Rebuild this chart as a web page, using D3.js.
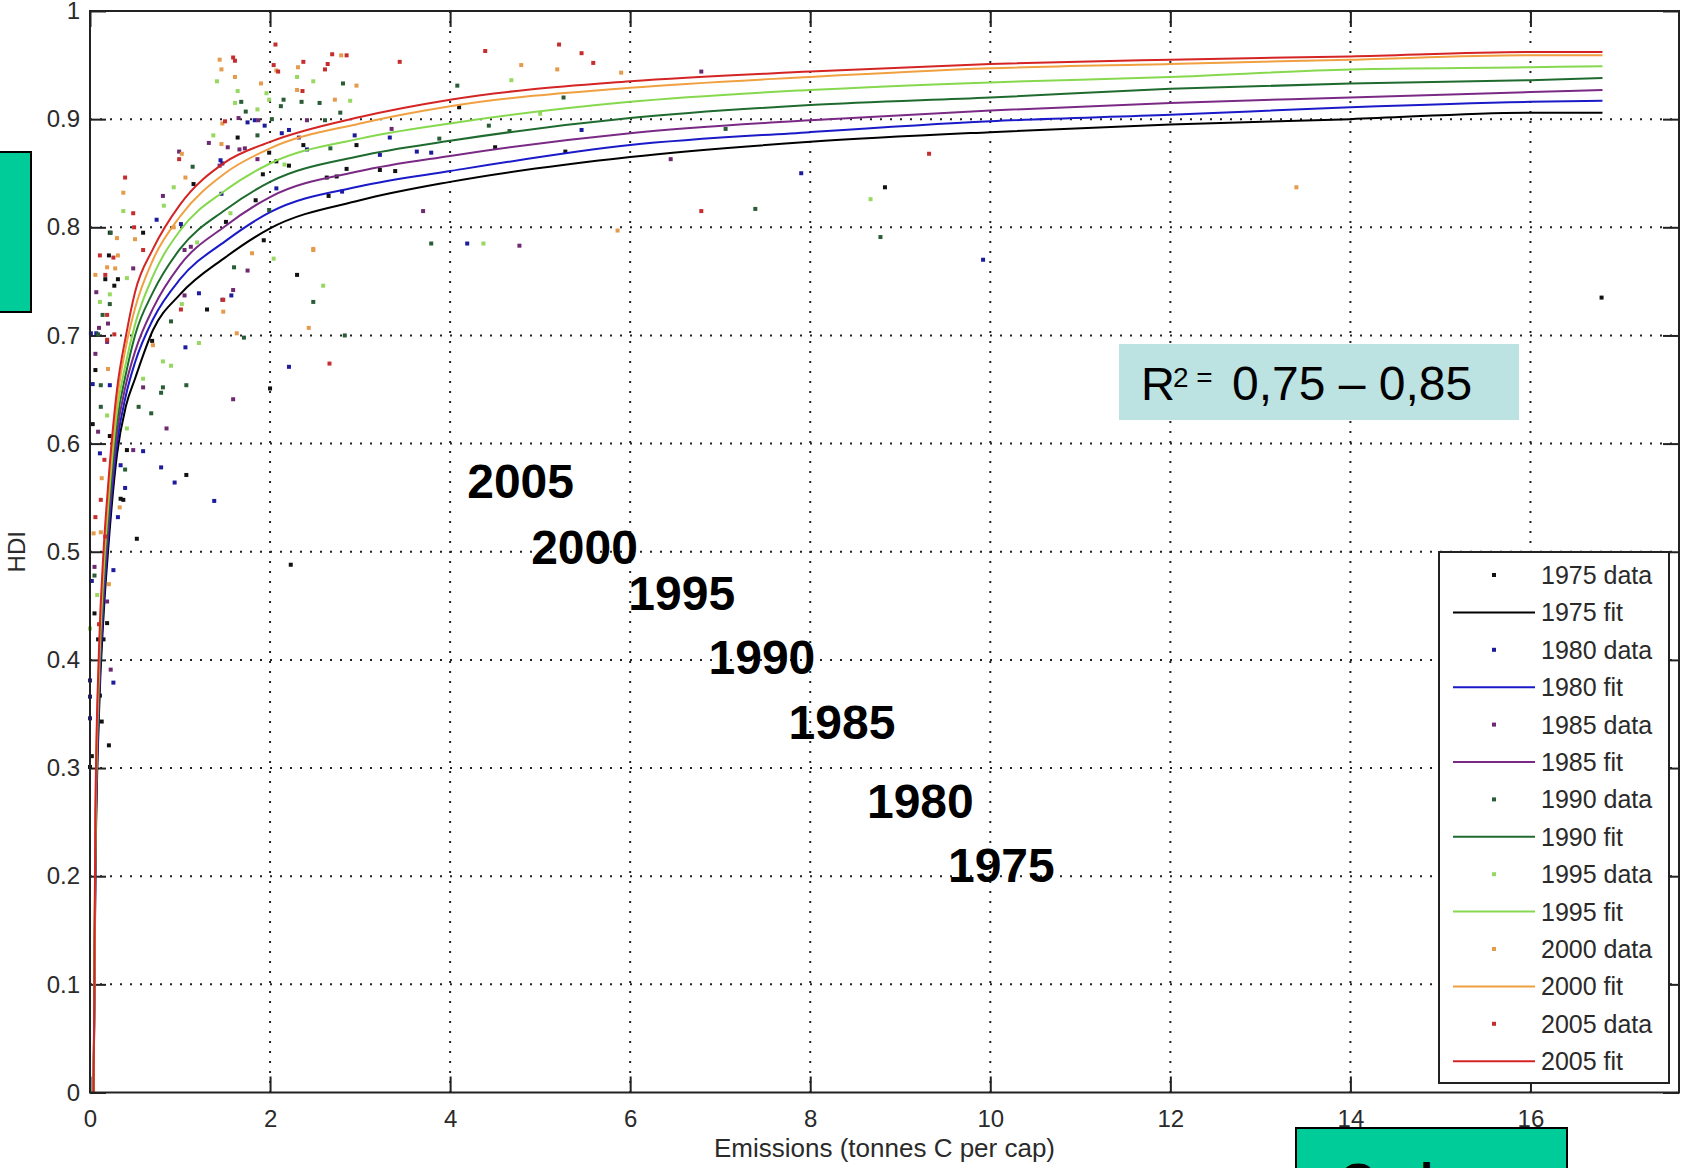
<!DOCTYPE html>
<html>
<head>
<meta charset="utf-8">
<script src="https://cdn.jsdelivr.net/npm/d3@7"></script>
<style>
  body { margin: 0; background: #fff; }
  svg { display: block; }
  text { font-family: "Liberation Sans", Arial, sans-serif; }
</style>
</head>
<body>
<script>
var years = ["1975", "1980", "1985", "1990", "1995", "2000", "2005"];

var xTicks = [0, 2, 4, 6, 8, 10, 12, 14, 16];
var yTicks = [0, 0.1, 0.2, 0.3, 0.4, 0.5, 0.6, 0.7, 0.8, 0.9, 1];
var yTickLabels = ["0", "0.1", "0.2", "0.3", "0.4", "0.5", "0.6", "0.7", "0.8", "0.9", "1"];

// fitted curves at these x positions
var fitX = [0.04, 0.06, 0.1, 0.15, 0.2, 0.3, 0.4, 0.5, 0.7, 1, 1.5, 2, 3, 4, 6, 8, 10, 12, 14, 16, 16.8];
var fit1975 = [0.00, 0.20, 0.35, 0.44, 0.50, 0.59, 0.635, 0.66, 0.705, 0.738, 0.772, 0.799, 0.825, 0.842, 0.865, 0.879, 0.888, 0.895, 0.900, 0.906, 0.906];
var fit1980 = [0.00, 0.21, 0.36, 0.45, 0.51, 0.60, 0.645, 0.675, 0.715, 0.752, 0.787, 0.814, 0.838, 0.852, 0.876, 0.888, 0.898, 0.904, 0.911, 0.916, 0.917];
var fit1985 = [0.00, 0.22, 0.37, 0.46, 0.52, 0.61, 0.655, 0.685, 0.725, 0.765, 0.801, 0.828, 0.852, 0.866, 0.887, 0.899, 0.908, 0.915, 0.920, 0.925, 0.927];
var fit1990 = [0.00, 0.23, 0.38, 0.47, 0.53, 0.62, 0.665, 0.700, 0.740, 0.780, 0.816, 0.842, 0.866, 0.880, 0.901, 0.913, 0.920, 0.928, 0.933, 0.936, 0.938];
var fit1995 = [0.00, 0.24, 0.39, 0.48, 0.54, 0.63, 0.675, 0.710, 0.755, 0.797, 0.834, 0.859, 0.882, 0.896, 0.916, 0.927, 0.934, 0.939, 0.946, 0.948, 0.949];
var fit2000 = [0.00, 0.25, 0.40, 0.49, 0.55, 0.64, 0.690, 0.725, 0.770, 0.810, 0.850, 0.873, 0.896, 0.912, 0.929, 0.939, 0.947, 0.951, 0.955, 0.959, 0.959];
var fit2005 = [0.00, 0.26, 0.41, 0.50, 0.56, 0.65, 0.700, 0.740, 0.780, 0.821, 0.860, 0.879, 0.902, 0.918, 0.935, 0.944, 0.951, 0.955, 0.958, 0.962, 0.962];

// country points [emissions, HDI]
var data1975 = [[16.79,0.735],[8.83,0.837],[4.10,0.911],[4.5,0.874],[5.28,0.870],[1.64,0.883],[1.99,0.869],[2.37,0.876],
  [2.07,0.861],[2.21,0.857],[1.92,0.849],[1.84,0.825],[2.74,0.847],[2.65,0.829],[1.15,0.840],[0.59,0.795],[1.51,0.805],
  [1.93,0.788],[2.30,0.756],[0.21,0.774],[0.31,0.752],[0.22,0.795],[0.17,0.752],[0.27,0.746],[0.06,0.668],[0.03,0.618],
  [0.22,0.607],[0.34,0.549],[0.37,0.548],[0.41,0.594],[0.52,0.512],[1.07,0.571],[0.69,0.695],[1.30,0.724],[2.0,0.651],
  [2.23,0.488],[2.96,0.876],[3.22,0.853],[3.39,0.852],[2.85,0.854],[2.63,0.846],[0.05,0.443],[0.19,0.434],[0.09,0.419],
  [0.15,0.419],[0.11,0.367],[0.13,0.343],[0.21,0.321],[0.0,0.301],[0.02,0.311]];
var data1980 = [[9.92,0.770],[7.9,0.850],[5.46,0.890],[3.63,0.870],[3.79,0.869],[4.19,0.785],[1.83,0.899],[1.75,0.897],
  [1.94,0.894],[1.45,0.862],[1.47,0.859],[2.13,0.887],[2.21,0.890],[2.41,0.872],[2.07,0.836],[2.80,0.833],[0.74,0.807],
  [1.01,0.803],[1.46,0.831],[0.07,0.702],[0.01,0.702],[0.03,0.655],[0.22,0.654],[0.11,0.591],[0.31,0.532],[0.39,0.559],
  [0.59,0.593],[0.34,0.580],[0.79,0.578],[0.94,0.564],[1.38,0.547],[1.06,0.689],[1.21,0.739],[1.57,0.737],[2.21,0.671],
  [2.94,0.885],[3.33,0.883],[3.22,0.867],[0.26,0.483],[0.02,0.473],[0.26,0.379],[0.0,0.381],[0.0,0.366],[0.0,0.346]];
var data1985 = [[6.79,0.944],[6.45,0.863],[3.7,0.815],[4.77,0.783],[1.87,0.899],[1.65,0.901],[1.32,0.878],[1.53,0.874],
  [1.66,0.872],[1.72,0.873],[1.44,0.857],[1.86,0.863],[2.32,0.883],[2.41,0.899],[0.99,0.870],[0.81,0.829],[1.12,0.782],
  [1.05,0.779],[1.75,0.760],[0.48,0.762],[0.20,0.711],[0.10,0.707],[0.19,0.694],[0.06,0.683],[0.09,0.611],[0.48,0.594],
  [0.85,0.614],[0.59,0.652],[1.59,0.641],[1.59,0.742],[1.47,0.733],[1.05,0.737],[0.07,0.740],[3.35,0.891],[0.05,0.486],
  [0.19,0.454],[0.23,0.391]];
var data1990 = [[7.06,0.891],[7.39,0.817],[8.78,0.791],[4.08,0.931],[5.26,0.920],[4.43,0.894],[4.66,0.889],[3.88,0.882],
  [3.79,0.785],[1.68,0.916],[1.73,0.907],[2.35,0.916],[2.55,0.915],[2.15,0.918],[2.12,0.912],[2.02,0.900],[1.86,0.885],
  [2.61,0.899],[2.67,0.873],[1.99,0.816],[1.14,0.856],[1.6,0.763],[0.23,0.795],[0.22,0.729],[0.14,0.719],[0.09,0.701],
  [0.12,0.654],[0.12,0.634],[0.39,0.576],[0.68,0.628],[0.54,0.634],[0.79,0.647],[0.81,0.652],[1.07,0.654],[0.9,0.713],
  [2.48,0.731],[2.83,0.700],[2.81,0.933],[2.78,0.906],[0.05,0.478],[1.71,0.698]];
var data1995 = [[8.67,0.826],[4.37,0.785],[4.68,0.936],[5.0,0.905],[1.41,0.935],[1.64,0.926],[1.61,0.915],[1.86,0.909],
  [1.96,0.924],[2.48,0.935],[2.30,0.939],[1.99,0.918],[1.37,0.885],[2.16,0.858],[0.37,0.815],[0.82,0.820],[0.93,0.837],
  [1.56,0.813],[1.19,0.786],[2.04,0.771],[0.41,0.753],[0.22,0.738],[0.11,0.731],[0.41,0.614],[0.19,0.626],[0.59,0.660],
  [0.81,0.676],[0.9,0.672],[1.21,0.693],[1.02,0.729],[2.89,0.917],[2.59,0.746],[0.08,0.46],[0.0,0.429]];
var data2000 = [[13.4,0.837],[5.86,0.797],[4.79,0.950],[5.19,0.946],[5.90,0.943],[1.44,0.955],[1.46,0.946],[1.61,0.939],
  [1.90,0.933],[2.07,0.945],[2.31,0.948],[2.30,0.927],[2.79,0.959],[2.72,0.918],[1.47,0.896],[1.46,0.877],[1.02,0.868],
  [0.37,0.832],[0.5,0.789],[1.06,0.846],[0.93,0.800],[1.80,0.776],[2.48,0.779],[0.31,0.774],[0.28,0.762],[0.30,0.790],
  [0.19,0.763],[0.06,0.756],[0.2,0.669],[0.13,0.568],[0.04,0.517],[0.12,0.518],[0.33,0.541],[0.70,0.691],[1.48,0.722],
  [1.63,0.702],[2.43,0.707],[2.48,0.780],[2.96,0.931],[0.21,0.47]];
var data2005 = [[9.32,0.868],[6.79,0.815],[3.44,0.953],[4.39,0.963],[5.21,0.969],[5.46,0.961],[5.59,0.952],[2.06,0.969],
  [1.59,0.957],[1.61,0.954],[2.04,0.950],[2.09,0.944],[2.37,0.953],[2.36,0.926],[2.69,0.960],[2.64,0.951],[2.61,0.946],
  [2.85,0.959],[1.5,0.898],[0.99,0.863],[0.39,0.846],[0.48,0.813],[0.49,0.800],[0.26,0.772],[0.17,0.756],[0.59,0.779],
  [0.11,0.774],[0.19,0.719],[0.19,0.696],[0.27,0.701],[0.16,0.585],[0.12,0.548],[0.06,0.532],[0.17,0.514],[1.01,0.724],
  [2.66,0.674],[1.48,0.733],[0.1,0.433]];

// year annotations placed in data units
var yearLabels = ["2005", "2000", "1995", "1990", "1985", "1980", "1975"];
var yearLabelX = [4.19, 4.90, 5.98, 6.87, 7.76, 8.63, 9.53];
var yearLabelY = [0.550, 0.489, 0.446, 0.387, 0.327, 0.254, 0.195];

var fitColors = ["#000000", "#1a1ac8", "#7a2a85", "#1f6b2f", "#86d94e", "#f0a040", "#d42424"];
var dotColors = ["#111111", "#1c1c9c", "#6e2a70", "#2a5c36", "#96d860", "#e69a4c", "#c42e2e"];

var fits = [fit1975, fit1980, fit1985, fit1990, fit1995, fit2000, fit2005];
var dots = [data1975, data1980, data1985, data1990, data1995, data2000, data2005];

var W = 1681, H = 1168;
var box = {left: 90, top: 11, right: 1679, bottom: 1092.5};

var x = d3.scaleLinear().domain([0, 17.65]).range([box.left, box.right]);
var y = d3.scaleLinear().domain([0, 1]).range([box.bottom, box.top]);

var svg = d3.select("body").append("svg")
  .attr("width", W)
  .attr("height", H);

svg.append("rect").attr("width", W).attr("height", H).attr("fill", "#fff");

// dotted grid
svg.append("g").selectAll("line")
  .data(xTicks.filter(function (d) { return d > 0; }))
  .enter().append("line")
  .attr("x1", function (d) { return x(d); })
  .attr("x2", function (d) { return x(d); })
  .attr("y1", box.top)
  .attr("y2", box.bottom)
  .attr("stroke", "#222")
  .attr("stroke-width", 2)
  .attr("stroke-dasharray", "2 8");

svg.append("g").selectAll("line")
  .data(yTicks.filter(function (d) { return d > 0 && d < 1; }))
  .enter().append("line")
  .attr("x1", box.left)
  .attr("x2", box.right)
  .attr("y1", function (d) { return y(d); })
  .attr("y2", function (d) { return y(d); })
  .attr("stroke", "#222")
  .attr("stroke-width", 2)
  .attr("stroke-dasharray", "2 8");

// axes (MATLAB style: inward ticks on all four sides)
function styleAxis(g) {
  g.select(".domain").remove();
  g.selectAll(".tick line").attr("stroke", "#222").attr("stroke-width", 2);
  g.selectAll("text")
    .attr("fill", "#2a2a2a")
    .style("font-family", "'Liberation Sans', Arial, sans-serif")
    .style("font-size", "24px");
}

svg.append("g")
  .attr("transform", "translate(0," + box.bottom + ")")
  .call(d3.axisBottom(x).tickValues(xTicks).tickSizeInner(-16).tickSizeOuter(0).tickPadding(17))
  .call(styleAxis);

svg.append("g")
  .attr("transform", "translate(0," + box.top + ")")
  .call(d3.axisTop(x).tickValues(xTicks).tickSizeInner(-16).tickSizeOuter(0).tickFormat(""))
  .call(styleAxis);

svg.append("g")
  .attr("transform", "translate(" + box.left + ",0)")
  .call(d3.axisLeft(y).tickValues(yTicks).tickSizeInner(-16).tickSizeOuter(0).tickPadding(10)
    .tickFormat(function (d, i) { return yTickLabels[i]; }))
  .call(styleAxis);

svg.append("g")
  .attr("transform", "translate(" + box.right + ",0)")
  .call(d3.axisRight(y).tickValues(yTicks).tickSizeInner(-16).tickSizeOuter(0).tickFormat(""))
  .call(styleAxis);

// data and fits, in MATLAB plotting order
var line = d3.line()
  .x(function (d) { return x(d[0]); })
  .y(function (d) { return y(d[1]); })
  .curve(d3.curveMonotoneX);

var plot = svg.append("g");
years.forEach(function (yr, i) {
  plot.append("g").selectAll("rect")
    .data(dots[i])
    .enter().append("rect")
    .attr("x", function (d) { return x(d[0]) - 2; })
    .attr("y", function (d) { return y(d[1]) - 2; })
    .attr("width", 4)
    .attr("height", 4)
    .attr("fill", dotColors[i]);

  plot.append("path")
    .datum(fitX.map(function (v, k) { return [v, fits[i][k]]; }))
    .attr("d", line)
    .attr("fill", "none")
    .attr("stroke", fitColors[i])
    .attr("stroke-width", 2);
});

// box
svg.append("rect")
  .attr("x", box.left).attr("y", box.top)
  .attr("width", box.right - box.left).attr("height", box.bottom - box.top)
  .attr("fill", "none").attr("stroke", "#222").attr("stroke-width", 2);

// axis titles
svg.append("text")
  .attr("x", (box.left + box.right) / 2)
  .attr("y", 1157)
  .attr("text-anchor", "middle")
  .attr("font-size", 26)
  .attr("fill", "#2a2a2a")
  .text("Emissions (tonnes C per cap)");

svg.append("text")
  .attr("transform", "translate(25," + ((box.top + box.bottom) / 2) + ") rotate(-90)")
  .attr("text-anchor", "middle")
  .attr("font-size", 24)
  .attr("fill", "#2a2a2a")
  .text("HDI");

// year annotations
svg.append("g").selectAll("text")
  .data(yearLabels)
  .enter().append("text")
  .attr("x", function (d, i) { return x(yearLabelX[i]); })
  .attr("y", function (d, i) { return y(yearLabelY[i]); })
  .attr("font-size", 48)
  .attr("font-weight", "bold")
  .attr("fill", "#000")
  .text(function (d) { return d; });

// legend
var legend = svg.append("g");
legend.append("rect")
  .attr("x", 1439).attr("y", 552)
  .attr("width", 230).attr("height", 531)
  .attr("fill", "#fff").attr("stroke", "#222").attr("stroke-width", 2);

var rowGap = 37.4;
years.forEach(function (yr, i) {
  var y0 = 575 + i * 2 * rowGap, y1 = y0 + rowGap;
  legend.append("rect")
    .attr("x", 1492).attr("y", y0 - 2)
    .attr("width", 4).attr("height", 4)
    .attr("fill", dotColors[i]);
  legend.append("text")
    .attr("x", 1541).attr("y", y0 + 9)
    .attr("font-size", 25).attr("fill", "#2a2a2a")
    .text(yr + " data");
  legend.append("line")
    .attr("x1", 1453).attr("x2", 1535)
    .attr("y1", y1).attr("y2", y1)
    .attr("stroke", fitColors[i]).attr("stroke-width", 2);
  legend.append("text")
    .attr("x", 1541).attr("y", y1 + 9)
    .attr("font-size", 25).attr("fill", "#2a2a2a")
    .text(yr + " fit");
});

// R squared box
svg.append("rect")
  .attr("x", 1119).attr("y", 344)
  .attr("width", 400).attr("height", 76)
  .attr("fill", "#bde2e2");
svg.append("text").attr("x", 1141).attr("y", 400).attr("font-size", 47).text("R");
svg.append("text").attr("x", 1173).attr("y", 387).attr("font-size", 28).text("2 =");
svg.append("text").attr("x", 1232).attr("y", 400).attr("font-size", 48).text("0,75 \u2013 0,85");

// slide boxes at the edges
svg.append("rect")
  .attr("x", -2).attr("y", 152)
  .attr("width", 33).attr("height", 160)
  .attr("fill", "#00cc99").attr("stroke", "#000").attr("stroke-width", 2);

svg.append("rect")
  .attr("x", 1296).attr("y", 1128)
  .attr("width", 271).attr("height", 60)
  .attr("fill", "#00cc99").attr("stroke", "#000").attr("stroke-width", 2);
svg.append("text")
  .attr("x", 1340).attr("y", 1197)
  .attr("font-size", 48).attr("font-weight", "bold")
  .text("Carbon");
</script>
</body>
</html>
